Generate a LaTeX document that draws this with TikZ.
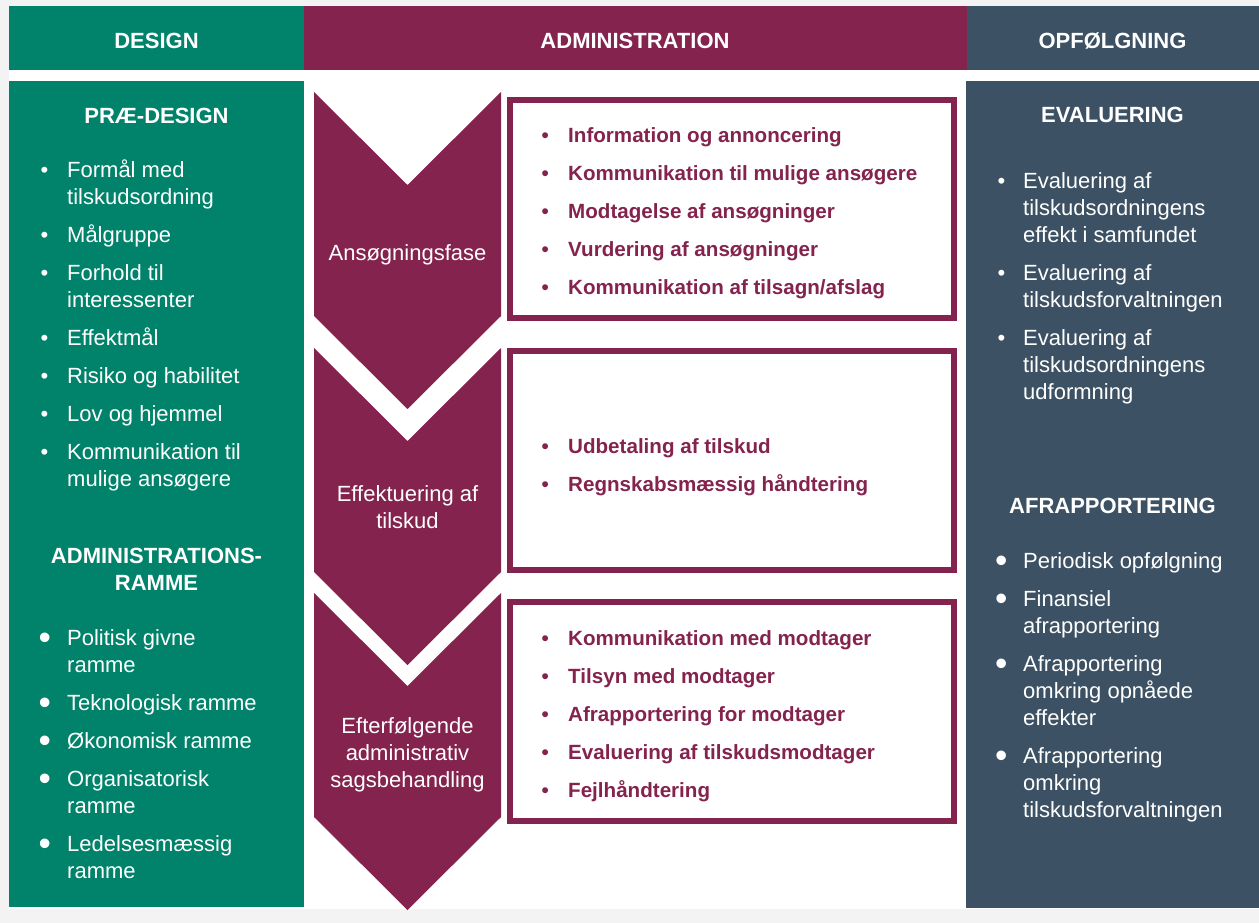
\documentclass[tikz,border=0pt]{standalone}
\usepackage{fontspec}
\setmainfont{Liberation Sans}
\usepackage[HTML]{xcolor}
\usepackage{graphicx}
\usepackage{tikz}
\usetikzlibrary{positioning}

\definecolor{dsgreen}{HTML}{00836A}
\definecolor{admred}{HTML}{84234E}
\definecolor{opfgray}{HTML}{3C5163}
\definecolor{pagegray}{HTML}{F3F3F3}

% bullet lists with hanging indent
\newlength{\bw}
\newcommand{\bsym}{•}
\newcommand{\smallbul}{•}
\newcommand{\bigbul}{\raisebox{-4pt}{\scalebox{1.6}{•}}}
\newcommand{\itm}[1]{\par\hangindent=\bw\hangafter=1\noindent\makebox[\bw][l]{\bsym}#1}
\newcommand{\blist}[4]{\parbox[t]{#1}{\setlength{\bw}{#2}\let\bsym#3\setlength{\parskip}{11pt}#4}}

\tikzset{
  hdr/.style={text=white, inner sep=0pt, anchor=base, font=\bfseries\fontsize{22}{27}\selectfont},
  lst/.style={text=white, inner sep=0pt, anchor=base west, font=\fontsize{22}{27}\selectfont},
  tsk/.style={text=admred, inner sep=0pt, anchor=base west, font=\bfseries\fontsize{20.6}{27}\selectfont},
  fase/.style={text=white, inner sep=0pt, anchor=base, font=\fontsize{22}{27}\selectfont},
  taskbox/.style={draw=admred, line width=5.5pt, fill=white}
}

\begin{document}
\begin{tikzpicture}[x=1pt, y=-1pt]
\useasboundingbox (0,0) rectangle (1259,923);
\fill[pagegray] (0,0) rectangle (1259,923);
\fill[white] (9,6) rectangle (1259,908.5);

% column headers
\fill[dsgreen] (9,6) rectangle (304,70);
\fill[admred] (304,6) rectangle (966.5,70);
\fill[opfgray] (966.5,6) rectangle (1259,70);
\node[hdr] (hdesign) at (156.5,49) {DESIGN};
\node[hdr] (hadmin) at (635,49) {ADMINISTRATION};
\node[hdr] (hopf) at (1112.5,49) {OPFØLGNING};

% column bodies
\fill[dsgreen] (9,81) rectangle (304,907);
\fill[opfgray] (966,81) rectangle (1259,907.5);

% design column
\node[hdr] (praedesign) at (156.5,124) {PRÆ-DESIGN};
\node[lst] (pdlist) at (40.3,178) {\blist{255pt}{26.7pt}{\smallbul}{%
  \itm{Formål med\\tilskudsordning}
  \itm{Målgruppe}
  \itm{Forhold til\\interessenter}
  \itm{Effektmål}
  \itm{Risiko og habilitet}
  \itm{Lov og hjemmel}
  \itm{Kommunikation til\\mulige ansøgere}}};
\node[hdr] (admramme) at (156.5,563) {\parbox[t]{280pt}{\centering ADMINISTRATIONS-\\RAMME}};
\node[lst] (arlist) at (38.5,645) {\blist{255pt}{28.5pt}{\bigbul}{%
  \itm{Politisk givne\\ramme}
  \itm{Teknologisk ramme}
  \itm{Økonomisk ramme}
  \itm{Organisatorisk\\ramme}
  \itm{Ledelsesmæssig\\ramme}}};

% administration column: chevrons
\foreach \t/\b in {92/316, 348/572, 593/817}
  \fill[admred] (314,\t) -- (407.5,\t+93) -- (501,\t) -- (501,\b) -- (407.5,\b+93) -- (314,\b) -- cycle;
\node[fase] (fase1) at (407.5,260) {Ansøgningsfase};
\node[fase] (fase2) at (407.5,501) {\parbox[t]{180pt}{\centering Effektuering af\\tilskud}};
\node[fase] (fase3) at (407.5,733) {\parbox[t]{180pt}{\centering Efterfølgende\\administrativ\\sagsbehandling}};

% administration column: task boxes
\draw[taskbox] (510,100) rectangle (954,318);
\draw[taskbox] (510,351) rectangle (954,570);
\draw[taskbox] (510,602) rectangle (954,821);
\node[tsk] (tasks1) at (541.4,143) {\blist{400pt}{26.6pt}{\smallbul}{%
  \itm{Information og annoncering}
  \itm{Kommunikation til mulige ansøgere}
  \itm{Modtagelse af ansøgninger}
  \itm{Vurdering af ansøgninger}
  \itm{Kommunikation af tilsagn/afslag}}};
\node[tsk] (tasks2) at (541.4,453) {\blist{400pt}{26.6pt}{\smallbul}{%
  \itm{Udbetaling af tilskud}
  \itm{Regnskabsmæssig håndtering}}};
\node[tsk] (tasks3) at (541.4,645) {\blist{400pt}{26.6pt}{\smallbul}{%
  \itm{Kommunikation med modtager}
  \itm{Tilsyn med modtager}
  \itm{Afrapportering for modtager}
  \itm{Evaluering af tilskudsmodtager}
  \itm{Fejlhåndtering}}};

% opfoelgning column
\node[hdr] (evaluering) at (1112.5,123) {EVALUERING};
\node[lst] (evlist) at (997.5,189) {\blist{255pt}{25.5pt}{\smallbul}{%
  \itm{Evaluering af\\tilskudsordningens\\effekt i samfundet}
  \itm{Evaluering af\\tilskudsforvaltningen}
  \itm{Evaluering af\\tilskudsordningens\\udformning}}};
\node[hdr] (afrap) at (1112.5,513) {AFRAPPORTERING};
\node[lst] (aflist) at (995,568) {\blist{255pt}{28pt}{\bigbul}{%
  \itm{Periodisk opfølgning}
  \itm{Finansiel\\afrapportering}
  \itm{Afrapportering\\omkring opnåede\\effekter}
  \itm{Afrapportering\\omkring\\tilskudsforvaltningen}}};
\end{tikzpicture}
\end{document}
